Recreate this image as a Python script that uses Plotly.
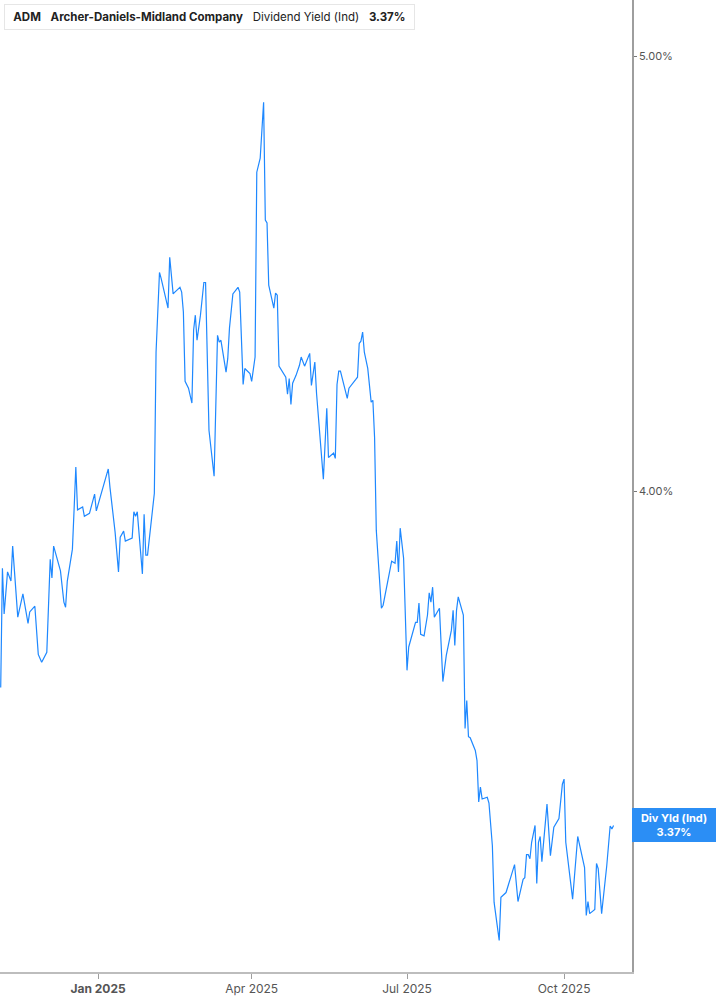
import math
import plotly.graph_objects as go

dates = [
    "2024-11-05", "2024-11-06", "2024-11-07", "2024-11-09", "2024-11-11", "2024-11-12", "2024-11-15",
    "2024-11-18", "2024-11-21", "2024-11-22", "2024-11-25", "2024-11-27", "2024-11-29", "2024-12-02",
    "2024-12-04", "2024-12-05", "2024-12-06", "2024-12-10", "2024-12-12", "2024-12-13", "2024-12-14",
    "2024-12-17", "2024-12-18", "2024-12-19", "2024-12-20", "2024-12-23", "2024-12-24", "2024-12-27",
    "2024-12-30", "2024-12-31", "2025-01-07", "2025-01-08", "2025-01-11", "2025-01-13", "2025-01-14",
    "2025-01-16", "2025-01-17", "2025-01-21", "2025-01-22", "2025-01-23", "2025-01-24", "2025-01-27",
    "2025-01-28", "2025-01-29", "2025-01-30", "2025-02-03", "2025-02-04", "2025-02-06", "2025-02-07",
    "2025-02-09", "2025-02-11", "2025-02-12", "2025-02-14", "2025-02-15", "2025-02-18", "2025-02-19",
    "2025-02-20", "2025-02-21", "2025-02-23", "2025-02-25", "2025-02-26", "2025-02-27", "2025-02-28",
    "2025-03-02", "2025-03-04", "2025-03-05", "2025-03-07", "2025-03-10", "2025-03-12", "2025-03-13",
    "2025-03-14", "2025-03-17", "2025-03-18", "2025-03-19", "2025-03-21", "2025-03-24", "2025-03-25",
    "2025-03-27", "2025-03-28", "2025-03-31", "2025-04-01", "2025-04-03", "2025-04-04", "2025-04-06",
    "2025-04-08", "2025-04-09", "2025-04-10", "2025-04-11", "2025-04-14", "2025-04-15", "2025-04-16",
    "2025-04-17", "2025-04-21", "2025-04-22", "2025-04-23", "2025-04-24", "2025-04-25", "2025-04-27",
    "2025-04-29", "2025-04-30", "2025-05-02", "2025-05-05", "2025-05-06", "2025-05-08", "2025-05-09",
    "2025-05-13", "2025-05-15", "2025-05-16", "2025-05-19", "2025-05-20", "2025-05-21", "2025-05-22",
    "2025-05-23", "2025-05-27", "2025-05-28", "2025-06-01", "2025-06-02", "2025-06-03", "2025-06-04",
    "2025-06-05", "2025-06-06", "2025-06-08", "2025-06-10", "2025-06-11", "2025-06-12", "2025-06-13",
    "2025-06-16", "2025-06-17", "2025-06-19", "2025-06-22", "2025-06-24", "2025-06-25", "2025-06-26",
    "2025-06-27", "2025-06-29", "2025-07-01", "2025-07-02", "2025-07-06", "2025-07-07", "2025-07-08",
    "2025-07-09", "2025-07-11", "2025-07-13", "2025-07-14", "2025-07-15", "2025-07-16", "2025-07-17",
    "2025-07-20", "2025-07-22", "2025-07-24", "2025-07-27", "2025-07-28", "2025-07-29", "2025-07-30",
    "2025-07-31", "2025-08-03", "2025-08-04", "2025-08-05", "2025-08-06", "2025-08-07", "2025-08-10",
    "2025-08-11", "2025-08-12", "2025-08-13", "2025-08-14", "2025-08-17", "2025-08-18", "2025-08-19",
    "2025-08-20", "2025-08-21", "2025-08-24", "2025-08-25", "2025-08-27", "2025-08-28", "2025-08-31",
    "2025-09-02", "2025-09-04", "2025-09-07", "2025-09-08", "2025-09-09", "2025-09-10", "2025-09-11",
    "2025-09-12", "2025-09-14", "2025-09-15", "2025-09-16", "2025-09-17", "2025-09-18", "2025-09-21",
    "2025-09-23", "2025-09-25", "2025-09-28", "2025-09-30", "2025-10-01", "2025-10-02", "2025-10-06",
    "2025-10-09", "2025-10-13", "2025-10-14", "2025-10-15", "2025-10-16", "2025-10-19", "2025-10-20",
    "2025-10-21", "2025-10-23", "2025-10-26", "2025-10-28", "2025-10-29", "2025-10-30",
]

div_yield = [
    3.617, 3.845, 3.756, 3.838, 3.820, 3.889, 3.750,
    3.795, 3.738, 3.760, 3.771, 3.679, 3.664, 3.683,
    3.863, 3.826, 3.889, 3.840, 3.779, 3.769, 3.820,
    3.883, 3.964, 4.050, 3.962, 3.968, 3.949, 3.955,
    3.994, 3.960, 4.046, 4.008, 3.917, 3.838, 3.907,
    3.919, 3.899, 3.905, 3.958, 3.949, 3.958, 3.834,
    3.953, 3.871, 3.871, 3.996, 4.296, 4.475, 4.461,
    4.430, 4.394, 4.510, 4.426, 4.430, 4.441, 4.430,
    4.385, 4.232, 4.217, 4.185, 4.345, 4.378, 4.322,
    4.378, 4.452, 4.452, 4.127, 4.031, 4.333, 4.318,
    4.322, 4.252, 4.282, 4.349, 4.426, 4.441, 4.430,
    4.225, 4.260, 4.249, 4.232, 4.285, 4.711, 4.745,
    4.883, 4.597, 4.590, 4.446, 4.394, 4.428, 4.423,
    4.265, 4.241, 4.204, 4.238, 4.182, 4.228, 4.245,
    4.267, 4.285, 4.265, 4.293, 4.223, 4.274, 4.206,
    4.025, 4.174, 4.070, 4.079, 4.068, 4.225, 4.254,
    4.254, 4.195, 4.217, 4.236, 4.241, 4.315, 4.320,
    4.340, 4.296, 4.260, 4.187, 4.191, 4.112, 3.921,
    3.767, 3.773, 3.806, 3.859, 3.855, 3.899, 3.838,
    3.925, 3.865, 3.649, 3.693, 3.740, 3.740, 3.777,
    3.717, 3.714, 3.754, 3.797, 3.779, 3.808, 3.750,
    3.767, 3.628, 3.677, 3.725, 3.763, 3.696, 3.763,
    3.789, 3.754, 3.542, 3.593, 3.527, 3.525, 3.502,
    3.484, 3.411, 3.437, 3.416, 3.419, 3.409, 3.362,
    3.335, 3.240, 3.177, 3.248, 3.254, 3.256, 3.284,
    3.303, 3.241, 3.278, 3.281, 3.320, 3.320, 3.313,
    3.341, 3.370, 3.271, 3.341, 3.351, 3.308, 3.407,
    3.318, 3.367, 3.382, 3.442, 3.451, 3.341, 3.245,
    3.351, 3.298, 3.218, 3.241, 3.221, 3.228, 3.305,
    3.296, 3.221, 3.301, 3.369, 3.364, 3.370,
]

x_tick_vals = ["2025-01-01", "2025-04-01", "2025-07-01", "2025-10-01"]
x_tick_text = ["<b>Jan 2025</b>", "Apr 2025", "Jul 2025", "Oct 2025"]
y_tick_vals = [4.0, 5.0]
y_tick_text = ["4.00%", "5.00%"]

ticker = "ADM"
company = "Archer-Daniels-Midland Company"
metric = "Dividend Yield (Ind)"
badge_label = "Div Yld (Ind)"
last_value = div_yield[-1]

LINE = "#1e88ff"
FONT = "Inter, Roboto, 'Noto Sans', sans-serif"

fig = go.Figure()
fig.add_trace(go.Scatter(
    x=dates, y=div_yield, mode="lines",
    line=dict(color=LINE, width=1.2),
    hoverinfo="skip", showlegend=False,
))

fig.update_layout(
    width=717, height=1005,
    margin=dict(l=0, r=85, t=0, b=33),
    paper_bgcolor="white", plot_bgcolor="white",
    font=dict(family=FONT, color="#555"),
    showlegend=False,
    xaxis=dict(
        type="date",
        range=["2024-11-04 14:00", "2025-11-09 19:00"],
        tickvals=x_tick_vals, ticktext=x_tick_text,
        showgrid=False, zeroline=False,
        showline=True, linecolor="#bdbdbd", linewidth=2,
        ticks="outside", ticklen=5, tickcolor="#9e9e9e", tickwidth=1,
        tickfont=dict(size=12, color="#555"),
    ),
    yaxis=dict(
        type="log", side="right",
        range=[math.log10(3.126), math.log10(5.146)],
        tickvals=y_tick_vals, ticktext=y_tick_text,
        showgrid=False, zeroline=False,
        showline=True, linecolor="#9e9e9e", linewidth=1.5,
        ticks="outside", ticklen=3, tickcolor="#777", tickwidth=1,
        tickfont=dict(size=11, color="#555"),
    ),
)

# header legend box
gap = "&nbsp;&nbsp;&nbsp;"
fig.add_annotation(
    xref="paper", yref="paper", x=4 / 632, y=1 - 4 / 972,
    xanchor="left", yanchor="top", showarrow=False, align="left",
    text=(f"&nbsp;<b>{ticker}</b>{gap}<b>{company}</b>{gap}"
          f"{metric}{gap}<b>{last_value:.2f}%</b>&nbsp;"),
    font=dict(size=11.5, color="#222", family=FONT),
    bgcolor="white", bordercolor="#e6e6e6", borderwidth=1, borderpad=5,
)
fig.add_shape(
    type="rect", xref="paper", yref="paper",
    x0=4 / 632, x1=6.5 / 632, y0=1 - 29 / 972, y1=1 - 6 / 972,
    fillcolor=LINE, line=dict(width=0), layer="above",
)

# last value badge
fig.add_annotation(
    xref="paper", yref="y", x=1.0, y=math.log10(last_value),
    xanchor="left", yanchor="middle", showarrow=False, align="center",
    text=f"<b>{badge_label}<br>{last_value:.2f}%</b>",
    font=dict(size=11, color="white", family=FONT),
    bgcolor="#2b8ef5", bordercolor="#2b8ef5", borderwidth=1, borderpad=2,
    width=78,
)

fig.write_html(
    "out.html",
    config={"displayModeBar": False},
    post_script="document.body.style.margin='0';",
)
